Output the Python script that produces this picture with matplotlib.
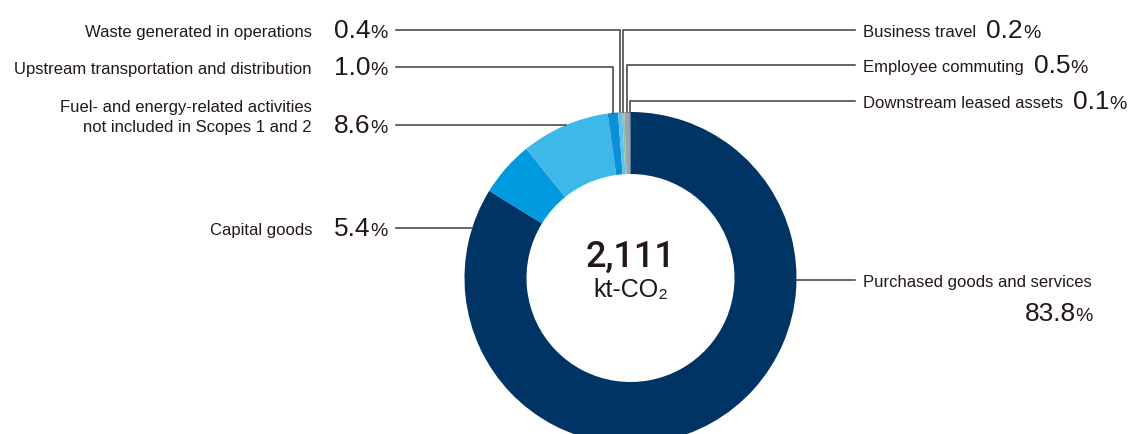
import numpy as np
import matplotlib.pyplot as plt

# Scope 3 emissions breakdown
categories = ['Purchased goods and services', 'Capital goods',
              'Fuel- and energy-related activities\nnot included in Scopes 1 and 2',
              'Upstream transportation and distribution', 'Waste generated in operations',
              'Business travel', 'Employee commuting', 'Downstream leased assets']
shares = [83.8, 5.4, 8.6, 1.0, 0.4, 0.2, 0.5, 0.1]
colors = ['#003465', '#009ade', '#3db8e8', '#0b8fd5', '#5cc3ee', '#7fc4b4', '#a3a3a3', '#2262a8']
total_value = '2,111'
total_unit = 'kt-CO\u2082'

# label placement: side, row y (px), leader style
sides = ['right', 'left', 'left', 'left', 'left', 'right', 'right', 'right']
rows = [280, 228, 125, 67, 30, 30, 65, 101]
elbow = [False, False, False, True, True, True, True, True]

text_color = '#231815'
line_color = '#3e3a39'
label_font = ['Liberation Sans', 'DejaVu Sans']
num_font = ['Liberation Sans', 'DejaVu Sans']

W, H = 1140, 434
cx, cy, r_out, ring = 630.5, 278, 166, 62
left_x, right_x = 396, 855

fig = plt.figure(figsize=(W / 100, H / 100), dpi=100)
ax = fig.add_axes([0, 0, 1, 1])

# y axis is flipped, so counterclock in data space runs clockwise on screen
wedges, _ = ax.pie(shares, colors=colors, radius=r_out, center=(cx, cy),
                   startangle=-90, counterclock=True, frame=True,
                   wedgeprops=dict(width=ring, linewidth=0))
ax.set_xlim(0, W)
ax.set_ylim(H, 0)  # pixel-style coordinates, y grows downward
ax.axis('off')

renderer = fig.canvas.get_renderer()


def text_width(t):
    return t.get_window_extent(renderer).width


def draw_value(x, base, value, ha, gap=0):
    # number in large type followed by a smaller percent sign
    num = ax.text(x, base, f'{value:.1f}', fontsize=19, family=num_font,
                  color=text_color, ha='left', va='baseline')
    wn = text_width(num)
    pct = ax.text(x, base, '%', fontsize=14, family=num_font,
                  color=text_color, ha='left', va='baseline')
    wp = text_width(pct)
    if ha == 'right':
        num.set_x(x - wp - wn - gap)
        pct.set_x(x - wp)
    else:
        pct.set_x(x + wn + gap)


cum = np.cumsum([0] + shares[:-1])
for name, val, side, y, elb, start in zip(categories, shares, sides, rows, elbow, cum):
    theta = np.radians(-90 + 360 * (start + val / 2) / 100)
    mx, my = cx + r_out * np.cos(theta), cy + r_out * np.sin(theta)
    dy = y - cy
    edge_dx = np.sqrt(max(r_out ** 2 - dy ** 2, 0))
    base = y + 7

    if side == 'left':
        if elb:
            ax.plot([left_x, mx, mx], [y, y, my], color=line_color, lw=1.1,
                    solid_joinstyle='miter')
        else:
            ax.plot([left_x, cx - edge_dx], [y, y], color=line_color, lw=1.1)
        lines = name.split('\n')
        for k, ln in enumerate(reversed(lines)):
            ax.text(312, base - 20 * k, ln, fontsize=12, family=label_font,
                    color=text_color, ha='right', va='baseline')
        draw_value(388, base + 1, val, 'right')
    else:
        if elb:
            ax.plot([right_x, mx, mx], [y, y, my], color=line_color, lw=1.1,
                    solid_joinstyle='miter')
        else:
            ax.plot([cx + edge_dx, right_x], [y, y], color=line_color, lw=1.1)
        lab = ax.text(863, base, name, fontsize=12, family=label_font,
                      color=text_color, ha='left', va='baseline')
        if elb:
            draw_value(863 + text_width(lab) + 10, base + 1, val, 'left')
        else:
            draw_value(1093, base + 34, val, 'right')

# total in the centre of the ring
ax.text(cx, 267, total_value, fontsize=26, family=['Roboto', 'DejaVu Sans'],
        weight='medium', color=text_color, ha='center', va='baseline')
ax.text(cx, 297, total_unit, fontsize=18, family=num_font,
        color=text_color, ha='center', va='baseline')

fig.savefig('out.png', dpi=100)
